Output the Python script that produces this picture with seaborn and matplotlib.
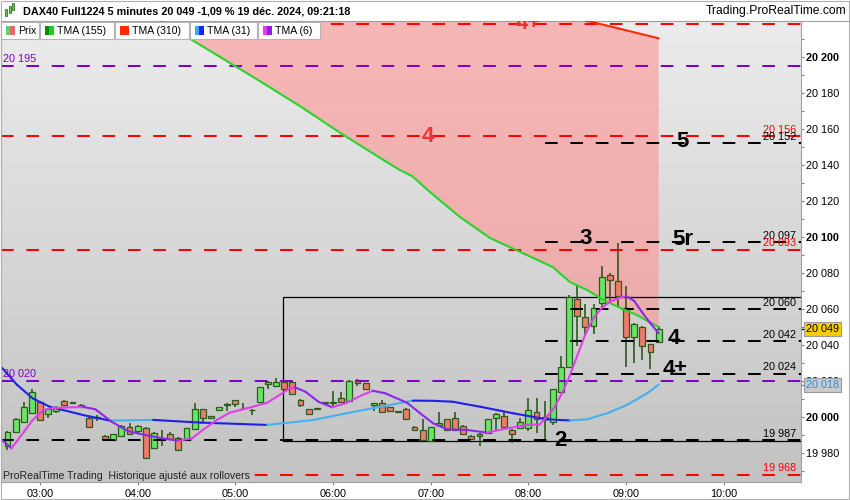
import numpy as np
import matplotlib
matplotlib.use("Agg")
import matplotlib.pyplot as plt
import matplotlib.patches as mpatches
import matplotlib.transforms as mtransforms
from matplotlib.colors import LinearSegmentedColormap
from matplotlib.lines import Line2D
import seaborn as sns

# 5 minute bars, bar 0 = 03:00, first visible bar = 02:40
FIRST_BAR = -4

opens = [19984.0, 19991.5, 19997.5, 20002.4, 20008.5, 20001.5, 20003.5, 20009.0, 20008.0, 20006.7,
         19999.3, 19999.5, 19989.3, 19987.0, 19989.4, 19994.3, 19992.4, 19994.1, 19982.6, 19988.0,
         19990.4, 19988.5, 19987.2, 19993.5, 20004.3, 20000.4, 20003.7, 20006.6, 20009.3, 20004.8,
         20003.7, 20008.5, 20018.3, 20017.4, 20019.6, 20019.6, 20009.4, 20004.3, 20004.6, 20008.0,
         20007.8, 20010.4, 20009.0, 20020.6, 20018.7, 20006.5, 20007.6, 20005.4, 20003.0, 20004.3,
         19994.3, 19992.8, 19986.8, 19995.6, 19998.7, 19999.3, 19995.2, 19989.4, 19990.6, 19991.3,
         19999.3, 20000.6, 19992.8, 19993.7, 19993.7, 20002.6, 19999.0, 19997.4, 20014.0, 20027.6,
         20065.6, 20055.4, 20050.6, 20063.2, 20078.9, 20075.6, 20060.4, 20044.6, 20049.8, 20040.4,
         20041.8]
highs = [19992.0, 19999.5, 20008.5, 20015.4, 20009.0, 20004.8, 20006.0, 20009.5, 20008.5, 20007.0,
         20000.2, 20001.0, 19989.8, 19990.8, 19995.5, 19996.5, 19995.6, 19994.5, 19991.8, 19992.8,
         19991.8, 19988.9, 19994.0, 20008.0, 20004.6, 20000.8, 20005.8, 20008.0, 20009.6, 20008.0,
         20004.3, 20016.8, 20019.9, 20021.5, 20020.0, 20020.6, 20009.8, 20004.6, 20004.8, 20008.2,
         20014.6, 20014.0, 20020.3, 20021.0, 20019.0, 20007.9, 20009.4, 20005.8, 20003.5, 20004.8,
         19994.8, 19998.7, 19994.6, 20002.9, 19999.0, 20002.9, 19995.6, 19989.8, 19991.0, 19999.0,
         20002.0, 20003.5, 19993.2, 19999.5, 20010.4, 20010.4, 20009.0, 20015.8, 20033.9, 20067.8,
         20073.3, 20062.8, 20062.8, 20083.9, 20080.2, 20096.8, 20072.8, 20052.5, 20050.5, 20040.8,
         20050.5]
lows = [19981.5, 19991.0, 19997.0, 20002.0, 19998.0, 19999.3, 20002.5, 20006.0, 20007.5, 20005.0,
        19994.0, 19998.0, 19986.7, 19986.5, 19989.0, 19990.0, 19990.9, 19977.0, 19982.0, 19983.9,
        19987.3, 19981.3, 19986.8, 19993.0, 19997.4, 19999.0, 20003.3, 20003.5, 20005.4, 20004.3,
        20001.3, 20008.2, 20015.4, 20016.5, 20015.0, 20012.2, 20005.4, 20001.2, 20004.3, 20007.8,
        20005.4, 20008.2, 20008.7, 20017.5, 20015.0, 20003.5, 20002.2, 20003.2, 20002.5, 19998.2,
        19992.3, 19986.8, 19986.5, 19994.6, 19992.4, 19992.4, 19990.2, 19987.2, 19983.9, 19991.0,
        19992.8, 19994.3, 19985.4, 19993.4, 19992.0, 19990.9, 19986.5, 19995.6, 20013.5, 20027.0,
        20039.4, 20045.0, 20046.0, 20060.9, 20064.0, 20060.9, 20027.6, 20029.8, 20031.7, 20026.5,
        20041.5]
closes = [19991.5, 19998.7, 20005.4, 20014.0, 19998.3, 20004.3, 20004.8, 20006.5, 20008.2, 20005.4,
          19994.3, 19999.8, 19987.6, 19990.4, 19995.2, 19990.5, 19995.2, 19977.4, 19991.3, 19988.4,
          19987.6, 19981.7, 19993.7, 20004.3, 19999.3, 19999.3, 20005.4, 20007.0, 20007.4, 20005.1,
          20004.0, 20016.5, 20019.6, 20019.6, 20015.4, 20012.6, 20006.5, 20001.5, 20004.6, 20008.0,
          20008.2, 20008.5, 20020.0, 20018.7, 20015.4, 20007.6, 20002.6, 20003.5, 20003.2, 19998.7,
          19992.8, 19987.2, 19994.3, 19996.8, 19992.8, 19992.8, 19990.6, 19987.6, 19989.4, 19998.7,
          20001.7, 19994.6, 19990.6, 19997.4, 20003.9, 19998.7, 20000.0, 20015.4, 20027.9, 20066.9,
          20056.3, 20049.8, 20060.4, 20077.6, 20076.1, 20067.2, 20044.6, 20051.5, 20039.6, 20036.3,
          20049.0]

# moving averages (bar index, value)
tma155_bar = [14.0, 18.7, 26.8, 31.9, 36.9, 41.8, 44.2, 45.7, 47.9, 51.6, 55.3, 59.0, 63.0, 65.1,
              67.2, 69.2, 71.3, 73.3, 76.0]
tma155_val = [20222.5, 20209.4, 20187.2, 20172.8, 20157.8, 20143.9, 20137.2, 20133.9, 20125.0,
              20111.1, 20099.4, 20091.7, 20083.3, 20075.0, 20070.6, 20065.0, 20060.6, 20056.7, 20050.0]
tma310_bar = [14.0, 30.0, 50.0, 67.7, 76.0]
tma310_val = [20272.0, 20256.0, 20236.0, 20219.6, 20210.4]
tma31_bar = [-4.9, -2.8, -0.9, 1.2, 5.3, 8.6, 13.9, 19.7, 27.9, 33.5, 37.7, 41.8, 45.8, 48.3, 50.7,
             54.1, 58.1, 62.3, 65.1, 67.2, 69.7, 72.1, 74.6, 76.0]
tma31_val = [20028.5, 20017.8, 20010.4, 20005.7, 20001.1, 19998.0, 19998.4, 19996.9, 19995.6, 19998.3,
             20002.1, 20005.7, 20009.1, 20009.0, 20008.5, 20005.7, 20002.1, 19998.7, 19998.1, 19998.7,
             20002.1, 20006.7, 20013.2, 20018.0]
tma6_bar = [-4.9, -3.5, -1.8, -0.9, 0.4, 1.6, 3.3, 5.3, 6.8, 8.8, 10.8, 12.9, 15.0, 17.0, 18.7, 20.0,
            21.7, 23.3, 25.4, 27.9, 29.1, 30.7, 31.3, 32.6, 34.2, 35.9, 37.5, 39.6, 40.9, 42.4, 45.1,
            46.7, 48.3, 50.0, 52.5, 54.9, 57.4, 59.8, 61.4, 63.0, 64.0, 65.0, 66.0, 67.0, 68.0, 69.0,
            70.0, 71.0, 72.0, 73.0, 74.0, 75.0, 76.0]
tma6_val = [19988.2, 19982.6, 19992.8, 19998.3, 20003.9, 20005.0, 20005.3, 20005.6, 20004.3, 19997.4,
            19992.2, 19990.0, 19988.2, 19986.8, 19988.2, 19992.8, 19998.3, 20002.4, 20004.8, 20007.9,
            20011.3, 20015.9, 20016.5, 20014.1, 20008.5, 20005.4, 20007.6, 20012.2, 20014.6, 20013.2,
            20007.9, 20002.1, 19996.5, 19993.2, 19992.8, 19991.3, 19993.7, 19995.6, 19995.9, 20003.9,
            20012.0, 20022.0, 20034.0, 20046.0, 20055.0, 20060.5, 20064.0, 20066.0, 20067.2, 20064.5,
            20058.0, 20052.0, 20046.5]

time_labels = ["03:00", "04:00", "05:00", "06:00", "07:00", "08:00", "09:00", "10:00"]

red_levels = [20218.3, 20156, 20093, 19968]
purple_levels = [20195, 20020]
black_levels = [20152, 20097, 20060, 20042, 20024]
support_level = 19987
range_top, range_bottom = 20066.7, 19986.7
last_price = 20049
last_tma31 = 20018

W, H = 850, 500


def fx(px):
    return px / W


def fy(py):
    return 1 - py / H


def slope_line(ax, xs, ys, up_color, down_color, lw):
    for k in range(len(xs) - 1):
        col = up_color if ys[k + 1] >= ys[k] else down_color
        ax.plot(xs[k:k + 2], ys[k:k + 2], color=col, lw=lw, solid_capstyle='round', zorder=7)


sns.set_theme(style="white")
plt.rcParams['font.family'] = ['Liberation Sans', 'DejaVu Sans']

fig = plt.figure(figsize=(W / 100, H / 100), dpi=100, facecolor='white')
ax = fig.add_axes([fx(1), fy(482), 800 / W, 461 / H])

# grey gradient background
bg = LinearSegmentedColormap.from_list('bg', ['#c2c2c2', '#ececec'])
ax.imshow(np.linspace(0, 1, 256).reshape(-1, 1), extent=[0, 1, 0, 1], transform=ax.transAxes,
          origin='lower', cmap=bg, aspect='auto', zorder=0, interpolation='bicubic')

# pink zone between TMA155 and TMA310
red_part = [(b, v) for b, v in zip(tma310_bar, tma310_val) if b >= tma155_bar[0]]
poly_x = list(tma155_bar) + [b for b, v in reversed(red_part)]
poly_y = list(tma155_val) + [v for b, v in reversed(red_part)]
ax.fill(poly_x, poly_y, color=(1.0, 0.58, 0.58), alpha=0.6, lw=0, zorder=1)

# trading range box
ax.add_patch(mpatches.Rectangle((29.85, range_bottom), 100, range_top - range_bottom,
                                fill=False, ec='black', lw=0.9, zorder=3))

# candles
bars = np.arange(FIRST_BAR, FIRST_BAR + len(opens))
o, h, l, c = map(np.array, (opens, highs, lows, closes))
up = c >= o
ax.vlines(bars, l, h, color='#2f5a1c', lw=1.2, zorder=4)
ax.bar(bars, np.maximum(np.abs(c - o), 0.35), bottom=np.minimum(o, c), width=0.72,
       color=np.where(up, '#66e666', '#ee7b6c'), edgecolor='#2f5a1c', linewidth=0.9, zorder=5)

# horizontal levels
dash = (0, (6.3, 6.3))
for v in red_levels:
    ax.axhline(v, color='#ff0000', lw=1.45, ls=dash, zorder=6)
for v in purple_levels:
    ax.axhline(v, color='#8000c8', lw=1.45, ls=dash, zorder=6)
ax.hlines(black_levels, 62, 100, color='black', lw=1.45, ls=dash, zorder=6)
ax.axhline(support_level, color='black', lw=1.45, ls=dash, zorder=6)

# moving averages
sns.lineplot(x=tma155_bar, y=tma155_val, ax=ax, color='#2ad42a', lw=1.5, zorder=7, legend=False)
sns.lineplot(x=tma310_bar, y=tma310_val, ax=ax, color='#ff2a00', lw=1.5, zorder=7, legend=False)
slope_line(ax, tma31_bar, tma31_val, '#45b0ee', '#2020ee', 1.5)
slope_line(ax, tma6_bar, tma6_val, '#e040e8', '#8c28e8', 1.5)

ax.set_xlim(-4.79, 93.49)
ax.set_ylim(19963.9, 20220.0)

# labels of the levels
trans = mtransforms.blended_transform_factory(ax.transAxes, ax.transData)
right_labels = [(20156, '#ff0000'), (20152, 'black'), (20097, 'black'), (20093, '#ff0000'),
                (20060, 'black'), (20042, 'black'), (20024, 'black'), (19987, 'black'),
                (19968, '#ff0000')]
for v, col in right_labels:
    ax.text(0.9938, v + 1.9, f"{v:,}".replace(",", " "), transform=trans, ha='right',
            va='baseline', fontsize=7.8, color=col, zorder=9)
for v in purple_levels:
    ax.text(0.003, v + 2.3, f"{v:,}".replace(",", " "), transform=trans, ha='left',
            va='baseline', fontsize=7.8, color='#8000c8', zorder=9)

big = dict(fontsize=16, fontweight='bold', ha='center', va='center', zorder=9, clip_on=True)
ax.text(60.0, 20218.5, "4+", color='#ee3333', **big)
ax.text(47.7, 20156.1, "4", color='#ee3333', **big)
ax.text(78.9, 20152.8, "5", color='black', **big)
ax.text(67.0, 20099.2, "3", color='black', **big)
ax.text(79.0, 20098.6, "5r", color='black', **big)
ax.text(77.9, 20043.6, "4", color='black', **big)
ax.text(78.0, 20026.4, "4±", color='black', **big)
ax.text(63.9, 19987.2, "2", color='black', **big)

# axes styling
for sp in ax.spines.values():
    sp.set_visible(True)
    sp.set_color('#a0a0a0')
    sp.set_linewidth(0.8)
ax.yaxis.tick_right()
major = np.arange(19980, 20201, 20)
ax.set_yticks(major, labels=[f"{v:,}".replace(",", " ") for v in major])
ax.set_yticks(np.arange(19970, 20220, 10), minor=True)
for lab, v in zip(ax.get_yticklabels(), major):
    if v % 100 == 0:
        lab.set_fontweight('bold')
ax.tick_params(axis='y', which='major', right=True, left=False, length=2.5, width=0.8,
               color='#808080', pad=1.2, labelsize=7.8, labelcolor='black')
ax.tick_params(axis='y', which='minor', right=True, left=False, length=2.0, width=0.8,
               color='#808080')
ax.set_xticks(range(0, 12 * len(time_labels), 12), labels=time_labels)
ax.tick_params(axis='x', bottom=True, length=2.5, width=0.8, color='#808080', pad=2.2,
               labelsize=7.8, labelcolor='black')
ax.set_xlabel('')
ax.set_ylabel('')
ax.grid(False)

# last value boxes on the price scale
ax.text(1.006, last_price, f"{last_price:,}".replace(",", " "), transform=trans, ha='left',
        va='center', fontsize=7.8, color='black', clip_on=False, zorder=10,
        bbox=dict(boxstyle='square,pad=0.18', fc='#ffcc00', ec='#9a9a9a', lw=0.8))
ax.plot([1.0, 1.005], [last_price] * 2, transform=trans, color='black', lw=1, clip_on=False)
ax.text(1.006, last_tma31, f"{last_tma31:,}".replace(",", " "), transform=trans, ha='left',
        va='center', fontsize=7.8, color='#2a8fdc', clip_on=False, zorder=10,
        bbox=dict(boxstyle='square,pad=0.18', fc='#cbcbcb', ec='#9a9a9a', lw=0.8))
ax.plot([1.0, 1.005], [last_tma31] * 2, transform=trans, color='#2a8fdc', lw=1, clip_on=False)

# header
fig.text(fx(23), fy(11), "DAX40 Full1224 5 minutes 20 049 -1,09 % 19 déc. 2024, 09:21:18",
         fontsize=7.8, fontweight='bold', va='center', ha='left', color='black')
fig.text(fx(846), fy(11), "Trading.ProRealTime.com", fontsize=8.7, va='center', ha='right',
         color='black')
for x0, y0, x1, y1 in [(5, 9, 7, 16), (9, 6, 11, 13), (12, 3, 14, 10)]:
    fig.add_artist(mpatches.Rectangle((fx(x0), fy(y1)), (x1 - x0) / W, (y1 - y0) / H,
                                      transform=fig.transFigure, fc='#55cc44', ec='#2f5a1c', lw=0.5))


def fig_rect(x0, y0, x1, y1, **kw):
    fig.add_artist(mpatches.Rectangle((fx(x0), fy(y1)), (x1 - x0) / W, (y1 - y0) / H,
                                      transform=fig.transFigure, **kw))


legend_items = [(1, 39, "Prix", '#5cd65c', '#e06a6a'),
                (40, 114, "TMA (155)", '#0b8a0b', '#22cc22'),
                (115, 189, "TMA (310)", '#ff2a00', '#ff2a00'),
                (190, 257, "TMA (31)", '#3aaaf0', '#2020ff'),
                (258, 320, "TMA (6)", '#e040f0', '#8a20e0')]
for x0, x1, name, c1, c2 in legend_items:
    fig_rect(x0, 22, x1, 39, fc='white', ec='#b5b5b5', lw=0.8)
    fig_rect(x0 + 4.5, 26, x0 + 9, 35, fc=c1, ec='none')
    fig_rect(x0 + 9, 26, x0 + 13.5, 35, fc=c2, ec='none')
    fig.text(fx(x0 + 17), fy(30.5), name, fontsize=7.6, va='center', ha='left', color='black')

fig.text(fx(3), fy(476), "ProRealTime Trading  Historique ajusté aux rollovers", fontsize=7.6,
         va='center', ha='left', color='#222222',
         bbox=dict(boxstyle='square,pad=0.1', fc='#c3c3c3', ec='none'))

# outer frame
fig.add_artist(Line2D([fx(801), fx(850)], [fy(21), fy(21)], transform=fig.transFigure,
                      color='#a0a0a0', lw=0.8))
fig_rect(0.5, 0.5, 848.5, 498.5, fill=False, ec='#b0b0b0', lw=0.8)

fig.savefig('out.png', dpi=100)
